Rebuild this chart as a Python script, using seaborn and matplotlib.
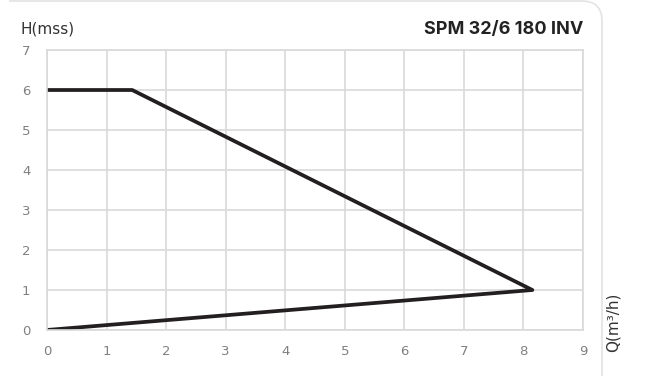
import matplotlib
matplotlib.use("Agg")
import matplotlib.pyplot as plt
import seaborn as sns
import pandas as pd
import numpy as np
from matplotlib.path import Path
from matplotlib.patches import PathPatch

# Pump operating envelope (flow in m³/h, head in m)
flow = [0.0, 1.43, 8.15, 0.0]
head = [6.0, 6.0, 1.0, 0.0]
x_ticks = [0, 1, 2, 3, 4, 5, 6, 7, 8, 9]
y_ticks = [0, 1, 2, 3, 4, 5, 6, 7]
title = "SPM 32/6 180 INV"
y_label = "H(mss)"
x_label = "Q(m³/h)"

df = pd.DataFrame({"Q": flow, "H": head, "order": range(len(flow))})

sns.set_theme(style="white")
plt.rcParams["font.family"] = ["DejaVu Sans"]

W, H = 646, 376
fig = plt.figure(figsize=(W / 100, H / 100), dpi=100)
ax = fig.add_axes([47 / W, (H - 330) / H, (583 - 47) / W, (330 - 50) / H])

grid_c = "#d9d9d9"
sns.lineplot(data=df, x="Q", y="H", sort=False, estimator=None,
             color="#231f20", linewidth=2.7, ax=ax, solid_joinstyle="round",
             solid_capstyle="butt")

ax.set_xlim(0, 9)
ax.set_ylim(0, 7)
ax.set_xticks(x_ticks)
ax.set_yticks(y_ticks)
ax.grid(True, color=grid_c, linewidth=1.2)
ax.set_axisbelow(True)
for s in ax.spines.values():
    s.set_color(grid_c)
    s.set_linewidth(1.2)
ax.tick_params(axis="both", length=0, labelsize=9.5, labelcolor="#808080")
ax.tick_params(axis="x", pad=11)
ax.tick_params(axis="y", pad=12)
ax.set_xlabel("")
ax.set_ylabel("")

# Panel outline with rounded upper-right corner
r = 20
x0, x1, yt, yb = 10, 602, 1, 420
verts = [(x0, H + 40), (x0, H - yt), (x1 - r, H - yt), (x1, H - yt), (x1, H - yt - r), (x1, H - yb)]
codes = [Path.MOVETO, Path.LINETO, Path.LINETO, Path.CURVE3, Path.CURVE3, Path.LINETO]
fig.patches.append(PathPatch(Path([(vx / W, vy / H) for vx, vy in verts], codes),
                             transform=fig.transFigure, fill=False,
                             edgecolor="#e3e3e3", linewidth=1.2))

fig.text(20 / W, 1 - 29 / H, y_label, fontsize=11, color="#333333",
         va="center", ha="left")
fig.text(583 / W, 1 - 29 / H, title, fontsize=13, fontweight="bold",
         color="#222222", va="center", ha="right", family=["Inter", "DejaVu Sans"])
fig.text(613 / W, 1 - 322 / H, x_label, fontsize=11, color="#333333",
         rotation=90, va="center", ha="center")

fig.savefig("out.png", dpi=100)
